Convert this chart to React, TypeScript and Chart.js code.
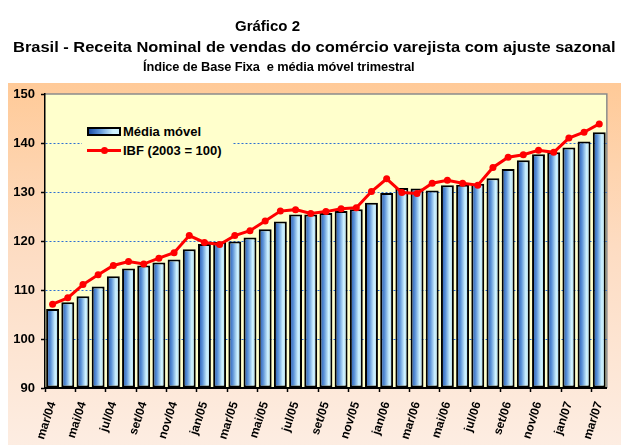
import React, { useEffect, useRef } from 'react';
import { Chart, registerables } from 'chart.js';

Chart.register(...registerables);

const categories: string[] = [
  'mar/04', 'abr/04', 'mai/04', 'jun/04', 'jul/04', 'ago/04', 'set/04', 'out/04', 'nov/04', 'dez/04',
  'jan/05', 'fev/05', 'mar/05', 'abr/05', 'mai/05', 'jun/05', 'jul/05', 'ago/05', 'set/05', 'out/05', 'nov/05', 'dez/05',
  'jan/06', 'fev/06', 'mar/06', 'abr/06', 'mai/06', 'jun/06', 'jul/06', 'ago/06', 'set/06', 'out/06', 'nov/06', 'dez/06',
  'jan/07', 'fev/07', 'mar/07',
];

const mediaMovel: number[] = [
  106.1, 107.5, 108.7, 110.7, 112.8, 114.4, 115.0, 115.6, 116.2, 118.3,
  119.4, 119.8, 119.9, 120.7, 122.4, 124.0, 125.4, 125.4, 125.7, 126.1, 126.5, 127.8,
  129.8, 130.8, 130.7, 130.3, 131.4, 131.5, 131.7, 132.8, 134.7, 136.5, 137.7, 138.1,
  139.1, 140.3, 142.2,
];

const ibf: number[] = [
  107.1, 108.4, 111.1, 113.1, 115.0, 115.8, 115.3, 116.5, 117.6, 121.1,
  119.7, 119.3, 121.1, 122.1, 124.1, 126.1, 126.4, 125.6, 126.0, 126.6, 126.8, 130.1,
  132.7, 129.9, 129.7, 131.8, 132.4, 131.8, 131.4, 135.0, 137.1, 137.6, 138.5, 138.1,
  141.0, 142.2, 143.9,
];

const yMin = 90;
const yMax = 150;
const yStep = 10;

const titleLine1 = 'Gráfico 2';
const titleLine2 = 'Brasil - Receita Nominal de vendas do comércio varejista com ajuste sazonal';
const titleLine3 = 'Índice de Base Fixa  e média móvel trimestral';
const legendBar = 'Média móvel';
const legendLine = 'IBF (2003 = 100)';

const FONT = '"Liberation Sans", Arial, Helvetica, sans-serif';
const BAR_PCT = 0.85;

const backgroundPlugin = {
  id: 'bgPlugin',
  beforeDraw(chart: any) {
    const { ctx, width, height, chartArea } = chart;
    if (!chartArea) return;
    ctx.save();
    ctx.fillStyle = '#FFFFFF';
    ctx.fillRect(0, 0, width, height);
    const g = ctx.createLinearGradient(0, 83, 0, height);
    g.addColorStop(0, '#FFCA98');
    g.addColorStop(0.45, '#FDDCC2');
    g.addColorStop(1, '#FDEDE2');
    ctx.fillStyle = g;
    ctx.fillRect(8, 83, width - 8, height - 83);
    ctx.fillStyle = '#FFFFCC';
    ctx.fillRect(chartArea.left, chartArea.top, chartArea.right - chartArea.left, chartArea.bottom - chartArea.top);
    ctx.strokeStyle = '#8C8C8C';
    ctx.lineWidth = 1.5;
    ctx.beginPath();
    ctx.moveTo(chartArea.left, chartArea.top);
    ctx.lineTo(chartArea.right, chartArea.top);
    ctx.lineTo(chartArea.right, chartArea.bottom);
    ctx.stroke();
    ctx.restore();
  },
};

function barFill(c: any) {
  const chart = c.chart;
  const xs = chart.scales && chart.scales.x;
  if (!chart.chartArea || !xs || c.type !== 'data' || !xs.width) return '#6FA8DC';
  const cx = xs.getPixelForValue(c.dataIndex);
  const w = (xs.width / categories.length) * BAR_PCT;
  const g = chart.ctx.createLinearGradient(cx - w / 2, 0, cx + w / 2, 0);
  g.addColorStop(0, '#1C4EA8');
  g.addColorStop(0.35, '#5C93D8');
  g.addColorStop(0.7, '#CFF3FF');
  g.addColorStop(1, '#9CC9EE');
  return g;
}

export default function App() {
  const ref = useRef<HTMLCanvasElement | null>(null);

  useEffect(() => {
    if (!ref.current) return;
    const chart = new Chart(ref.current, {
      type: 'bar',
      data: {
        labels: categories,
        datasets: [
          {
            type: 'line',
            label: legendLine,
            data: ibf,
            borderColor: '#FF0000',
            backgroundColor: '#FF0000',
            borderWidth: 3,
            pointRadius: 3.5,
            pointBackgroundColor: '#FF0000',
            pointBorderColor: '#FF0000',
            pointBorderWidth: 0,
            tension: 0,
            order: 0,
          } as any,
          {
            type: 'bar',
            label: legendBar,
            data: mediaMovel,
            base: yMin,
            backgroundColor: barFill,
            borderColor: '#000000',
            borderWidth: 2,
            borderSkipped: false,
            barPercentage: BAR_PCT,
            categoryPercentage: 1,
            order: 1,
          } as any,
        ],
      },
      options: {
        responsive: false,
        devicePixelRatio: 1,
        animation: false,
        layout: { padding: { left: 8, top: 94, right: 1, bottom: 0 } },
        plugins: {
          legend: { display: false },
          tooltip: { enabled: false },
          title: { display: false },
        },
        scales: {
          x: {
            type: 'category',
            offset: true,
            afterFit: (scale: any) => { scale.height = 57; },
            border: { color: '#000000', width: 2 },
            grid: {
              offset: true,
              drawOnChartArea: false,
              drawTicks: true,
              tickLength: 4,
              tickWidth: 1.5,
              tickColor: (ctx: any) => (ctx.index % 2 === 0 ? '#000000' : 'rgba(0,0,0,0)'),
            },
            ticks: {
              autoSkip: false,
              maxRotation: 72,
              minRotation: 72,
              padding: 8,
              color: '#000000',
              font: { family: FONT, size: 12, weight: 'bold' },
              callback: (_v: any, i: number) => (i % 2 === 0 ? categories[i] : ''),
            },
          },
          y: {
            min: yMin,
            max: yMax,
            afterFit: (scale: any) => { scale.width = 37; },
            border: { color: '#000000', width: 1.5, dash: [2, 2] },
            grid: {
              color: (ctx: any) =>
                ctx.tick && (ctx.tick.value === yMin || ctx.tick.value === yMax) ? 'rgba(0,0,0,0)' : '#2D6FD2',
              lineWidth: 1,
              drawTicks: true,
              tickLength: 4,
              tickWidth: 1.5,
              tickColor: '#000000',
              tickBorderDash: [],
            },
            ticks: {
              stepSize: yStep,
              padding: 6,
              color: '#000000',
              font: { family: FONT, size: 13, weight: 'bold' },
            },
          },
        },
      } as any,
      plugins: [backgroundPlugin],
    });
    return () => chart.destroy();
  }, []);

  const textBase: React.CSSProperties = {
    position: 'absolute',
    whiteSpace: 'pre',
    fontFamily: FONT,
    fontWeight: 'bold',
    color: '#000000',
  };

  return (
    <div style={{ position: 'fixed', left: 0, top: 0, width: 621, height: 445, background: '#FFFFFF', overflow: 'hidden' }}>
      <canvas ref={ref} width={621} height={445} style={{ position: 'absolute', left: 0, top: 0, width: 621, height: 445 }} />
      <div style={{ ...textBase, left: 235, top: 18, fontSize: 15, lineHeight: '15px' }}>{titleLine1}</div>
      <div
        style={{
          ...textBase,
          left: 13,
          top: 40,
          fontSize: 14,
          lineHeight: '14px',
          transformOrigin: 'left top',
          transform: 'scaleX(1.175)',
        }}
      >
        {titleLine2}
      </div>
      <div style={{ ...textBase, left: 143, top: 61, fontSize: 12.8, lineHeight: '12.8px', letterSpacing: '-0.1px' }}>
        {titleLine3}
      </div>

      <div style={{ position: 'absolute', left: 82, top: 117, width: 151, height: 45, background: '#FFFFCC' }} />
      <div
        style={{
          position: 'absolute',
          left: 87,
          top: 127,
          width: 30,
          height: 5,
          border: '2px solid #000000',
          background: 'linear-gradient(to right, #1C4EA8, #5C93D8 35%, #CFF3FF 80%, #CFF3FF)',
        }}
      />
      <div style={{ ...textBase, left: 123, top: 125, fontSize: 13, lineHeight: '13px' }}>{legendBar}</div>
      <div style={{ position: 'absolute', left: 87, top: 149, width: 34, height: 3, background: '#FF0000' }} />
      <div
        style={{
          position: 'absolute',
          left: 100.5,
          top: 147,
          width: 7,
          height: 7,
          borderRadius: '50%',
          background: '#FF0000',
        }}
      />
      <div style={{ ...textBase, left: 123, top: 144, fontSize: 13, lineHeight: '13px' }}>{legendLine}</div>
    </div>
  );
}
